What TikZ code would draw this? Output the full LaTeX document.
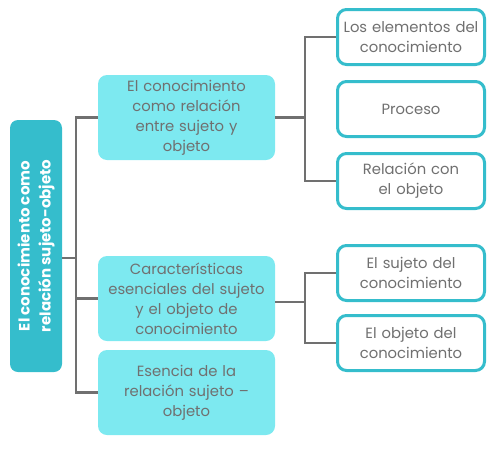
\documentclass[tikz,border=0pt]{standalone}
\usepackage{fontspec}
\setmainfont{Poppins}
\usetikzlibrary{arrows.meta,calc,positioning}
\definecolor{teal}{RGB}{53,189,204}
\definecolor{cyan}{RGB}{125,233,240}
\definecolor{ink}{RGB}{112,112,112}
\definecolor{wire}{RGB}{112,112,112}

\begin{document}
\begin{tikzpicture}[x=1pt,y=-1pt,
  every node/.style={font=\fontsize{14.8}{20}\selectfont,text=ink,align=center},
  rootbox/.style={fill=teal,rounded corners=8pt,text=white,font=\fontsize{15}{21}\selectfont\bfseries,
    rotate=90,minimum width=252pt,minimum height=52pt,inner sep=1pt},
  midbox/.style={fill=cyan,rounded corners=9pt,minimum width=177pt,minimum height=85pt,text width=176pt,inner sep=0pt},
  leafbox/.style={draw=teal,line width=3pt,fill=white,rounded corners=9pt,minimum width=147pt,minimum height=55pt,text width=146pt,inner sep=0pt},
  wire/.style={draw=wire,line width=2.3pt}]
\useasboundingbox (0,0) rectangle (500,461);
\node[rootbox] (root) at (36,246) {El conocimiento como\\relación sujeto-objeto};
\node[midbox] (M1) at (186.5,117.5) {El conocimiento\\como relación\\entre sujeto y\\objeto};
\node[midbox] (M2) at (186.5,298.5) {Características\\esenciales del sujeto\\y el objeto de\\conocimiento};
\node[midbox] (M3) at (186.5,392.5) {Esencia de la\\relación sujeto --\\objeto};
\node[leafbox] (R1) at (411,37) {Los elementos del\\conocimiento};
\node[leafbox] (R2) at (411,109) {Proceso};
\node[leafbox] (R3) at (411,181) {Relación con\\el objeto};
\node[leafbox] (R4) at (411,273) {El sujeto del\\conocimiento};
\node[leafbox] (R5) at (411,343) {El objeto del\\conocimiento};
% trunk and branches
\coordinate (tk) at (76,258);
\coordinate (j1) at (305,117.5);
\coordinate (j2) at (305,302);
\draw[wire] (root.south|-tk) -- (tk);
\draw[wire] (M1.west) -| (tk) |- (M3.west);
\draw[wire] (tk|-M2.west) -- (M2.west);
\draw[wire] (M1.east) -- (j1);
\draw[wire] (R1.west) -| (j1) |- (R3.west);
\draw[wire] (M2.east|-j2) -- (j2);
\draw[wire] (R4.west) -| (j2) |- (R5.west);
\end{tikzpicture}
\end{document}
